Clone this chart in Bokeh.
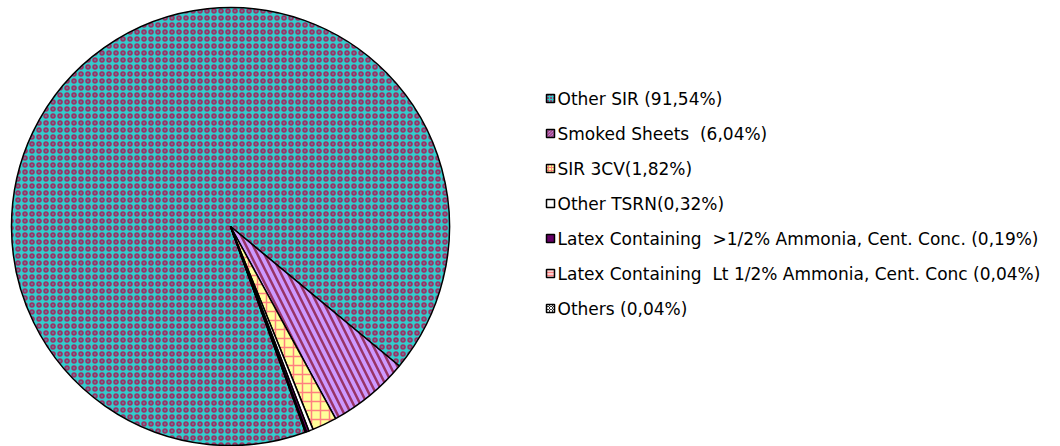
import math
from bokeh.plotting import figure
from bokeh.models import ColumnDataSource, Range1d
from bokeh.core.properties import value
from bokeh.embed import file_html
from bokeh.resources import INLINE

# ---- data ----
labels = [
    "Other SIR (91,54%)",
    "Smoked Sheets\u00a0 (6,04%)",
    "SIR 3CV(1,82%)",
    "Other TSRN(0,32%)",
    "Latex Containing\u00a0 >1/2% Ammonia, Cent. Conc. (0,19%)",
    "Latex Containing\u00a0 Lt 1/2% Ammonia, Cent. Conc (0,04%)",
    "Others (0,04%)",
]
values = [91.54, 6.04, 1.82, 0.32, 0.19, 0.04, 0.04]

# ---- styles ----
fills = ["#33CCCC", "#CC99FF", "#FFFF99", "#FFFFFF", "#660066", "#FFCCCC", "#333333"]
hatches = ["o", "\\", "+", " ", " ", "-", "x"]
hatch_colors = ["#993366", "#993366", "#FF8080", "#33CCCC", "#660066", "#FF8080", "#FFFFFF"]
hatch_scales = [7, 14, 9, 6, 6, 4, 4]
hatch_weights = [2.0, 2.5, 1.5, 1, 1, 1, 1]

W, H = 1060, 446
p = figure(width=W, height=H, output_backend="svg", toolbar_location=None,
           x_range=Range1d(0, W), y_range=Range1d(0, H), min_border=0)
p.axis.visible = False
p.grid.visible = False
p.outline_line_color = None
p.background_fill_color = "white"
p.border_fill_color = "white"

def px(X):
    return X

def py(Y):
    return H - Y

total = sum(values)
a0 = 290.0
starts, ends = [], []
cum = 0.0
for v in values:
    s = a0 - cum / total * 360.0
    cum += v
    e = a0 - cum / total * 360.0
    starts.append(math.radians(s))
    ends.append(math.radians(e))

src = ColumnDataSource(dict(start=starts, end=ends, fill=fills, hatch=hatches,
                            hcol=hatch_colors, hs=hatch_scales, hw=hatch_weights,
                            label=labels, value=values))
cx, cy, r = px(230), py(226), 219
p.wedge(x=cx, y=cy, radius=r, start_angle="start", end_angle="end",
        direction="clock", source=src, fill_color="fill", line_color="black",
        line_width=1.5, hatch_pattern="hatch", hatch_color="hcol",
        hatch_scale="hs", hatch_weight="hw")

# ---- legend ----
ys_page = [98 + i * 35 for i in range(len(labels))]
lsrc = ColumnDataSource(dict(x=[px(550)] * len(labels), y=[py(yy) for yy in ys_page],
                             tx=[px(557)] * len(labels), fill=fills, hatch=hatches,
                             hcol=hatch_colors, label=labels))
p.rect(x="x", y="y", width=8, height=8, source=lsrc, fill_color="fill",
       line_color="black", line_width=1.5, hatch_pattern="hatch", hatch_color="hcol",
       hatch_scale=3, hatch_weight=1)
p.text(x="tx", y="y", text="label", source=lsrc, text_font=value("DejaVu Sans"),
       text_font_size="17px", text_baseline="middle", text_align="left",
       text_color="black")

open("out.html", "w").write(file_html(p, INLINE))
